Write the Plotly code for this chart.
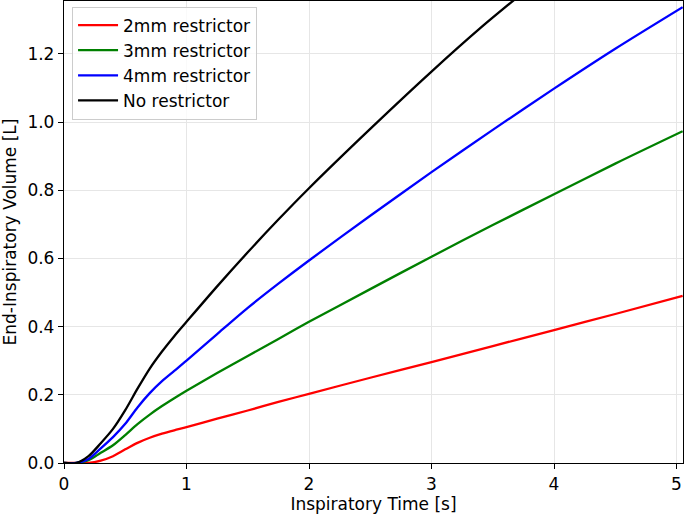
import plotly.graph_objects as go

t_black = [0.0, 0.1, 0.2, 0.3, 0.4, 0.5, 0.6, 0.7, 0.8, 0.9, 1.0, 1.25, 1.5, 1.75, 2.0, 2.5, 3.0, 3.4, 3.8]
v_black = [0.0, 0.0, 0.02, 0.058, 0.1, 0.155, 0.218, 0.277, 0.327, 0.372, 0.414, 0.518, 0.618, 0.714, 0.806, 0.98, 1.148, 1.276, 1.395]

t_curve = [0.0, 0.1, 0.2, 0.3, 0.4, 0.5, 0.6, 0.7, 0.8, 0.9, 1.0, 1.25, 1.5, 1.75, 2.0, 2.5, 3.0, 3.5, 4.0, 4.5, 5.05]
v_blue = [0.0, 0.0, 0.012, 0.043, 0.076, 0.115, 0.163, 0.205, 0.24, 0.27, 0.30, 0.378, 0.455, 0.526, 0.594, 0.725, 0.853, 0.977, 1.098, 1.215, 1.337]
v_green = [0.0, 0.0, 0.008, 0.03, 0.052, 0.082, 0.114, 0.142, 0.167, 0.19, 0.212, 0.264, 0.314, 0.364, 0.414, 0.51, 0.605, 0.698, 0.788, 0.878, 0.973]
v_red = [0.0, 0.0, 0.0, 0.007, 0.02, 0.04, 0.059, 0.074, 0.086, 0.096, 0.105, 0.13, 0.154, 0.179, 0.203, 0.25, 0.296, 0.343, 0.39, 0.437, 0.49]

names = ["2mm restrictor", "3mm restrictor", "4mm restrictor", "No restrictor"]
colors = ["#ff0000", "#008000", "#0000ff", "#000000"]

x_ticks = [0, 1, 2, 3, 4, 5]
y_ticks = [0.0, 0.2, 0.4, 0.6, 0.8, 1.0, 1.2]
y_tick_labels = ["0.0", "0.2", "0.4", "0.6", "0.8", "1.0", "1.2"]

fig = go.Figure()
series = [(t_curve, v_red), (t_curve, v_green), (t_curve, v_blue), (t_black, v_black)]
for i, ((tx, vy), nm, c) in enumerate(zip(series, names, colors)):
    fig.add_trace(go.Scatter(x=tx, y=vy, mode="lines", name=nm, legendgroup=f"g{i}",
                             line=dict(color=c, width=2.3, shape="spline", smoothing=0.8)))

font = dict(family="DejaVu Sans", size=17, color="black")
axis_common = dict(showline=True, linecolor="black", linewidth=1.3, mirror=True,
                   ticks="outside", ticklen=5, tickwidth=1.2, tickcolor="black",
                   showgrid=True, gridcolor="#e6e6e6", gridwidth=1, zeroline=False,
                   tickfont=font, automargin=False)
fig.update_layout(
    width=685, height=516,
    margin=dict(l=64, r=2, t=1, b=53),
    paper_bgcolor="white", plot_bgcolor="white",
    font=font,
    xaxis=dict(range=[0, 5.053], tickvals=x_ticks, title=dict(text="Inspiratory Time [s]", font=font, standoff=0), **axis_common),
    yaxis=dict(range=[0, 1.355], tickvals=y_ticks, ticktext=y_tick_labels,
               title=dict(text="End-Inspiratory Volume [L]", font=font, standoff=6), **axis_common),
    legend=dict(x=0.013, y=0.988, xanchor="left", yanchor="top", bgcolor="rgba(255,255,255,0.8)",
                bordercolor="#cccccc", borderwidth=1, font=font, tracegroupgap=0, itemwidth=40),
    showlegend=True,
)
fig.write_html("out.html", post_script="document.body.style.margin='0px';",
               config={"displayModeBar": False})
